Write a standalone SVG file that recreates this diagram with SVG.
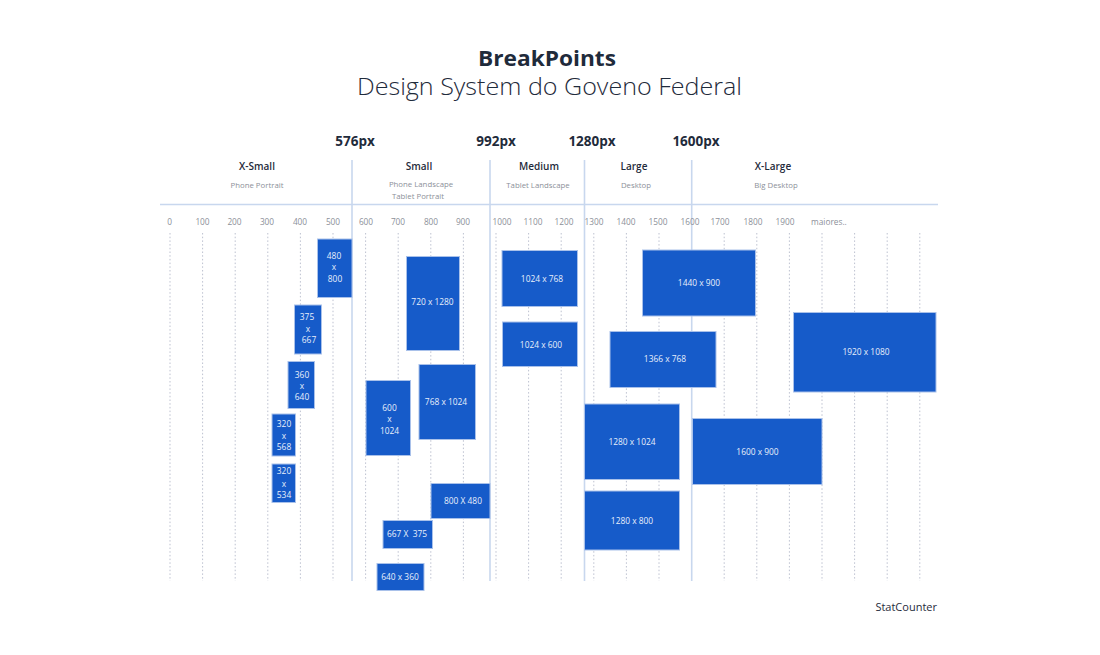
<svg xmlns="http://www.w3.org/2000/svg" width="1100" height="655" viewBox="0 0 1100 655">
<style>
text{font-family:"Open Sans","Liberation Sans",sans-serif}
.title{font-size:22px;font-weight:700;fill:#1f2b3b}
.sub{font-size:23px;font-weight:300;fill:#1f2b3b}
.bp{font-size:13.5px;font-weight:700;fill:#1f2b3b}
.cat{font-size:10px;font-weight:600;fill:#1f2b3b}
.desc{font-size:7.8px;fill:#8c9099}
.tick{font-size:8.3px;fill:#8c9099}
.box rect{fill:#165bc9;stroke:#a9c1ea;stroke-width:1}
.box text{font-size:8.4px;fill:#e8effb;text-anchor:middle}
.dot{stroke:#b6bacb;stroke-width:0.9;stroke-dasharray:1.5 2.2}
.sep{stroke:#c8d7ee;stroke-width:1.6}
.mid{text-anchor:middle}
</style>
<rect width="1100" height="655" fill="#ffffff"/>
<g id="title">
<text class="title mid" x="547" y="66" textLength="138" lengthAdjust="spacingAndGlyphs">BreakPoints</text>
<text class="sub mid" x="549.5" y="95" textLength="385" lengthAdjust="spacingAndGlyphs">Design System do Goveno Federal</text>
</g>
<g id="grid">
<line class="sep" x1="160" y1="204.5" x2="938" y2="204.5"/>
<line class="dot" x1="170" y1="233" x2="170" y2="581"/>
<line class="dot" x1="202.6" y1="233" x2="202.6" y2="581"/>
<line class="dot" x1="235.2" y1="233" x2="235.2" y2="581"/>
<line class="dot" x1="267.8" y1="233" x2="267.8" y2="581"/>
<line class="dot" x1="300.4" y1="233" x2="300.4" y2="581"/>
<line class="dot" x1="333" y1="233" x2="333" y2="581"/>
<line class="dot" x1="365.6" y1="233" x2="365.6" y2="581"/>
<line class="dot" x1="398.2" y1="233" x2="398.2" y2="581"/>
<line class="dot" x1="430.8" y1="233" x2="430.8" y2="581"/>
<line class="dot" x1="463.4" y1="233" x2="463.4" y2="581"/>
<line class="dot" x1="496" y1="233" x2="496" y2="581"/>
<line class="dot" x1="528.6" y1="233" x2="528.6" y2="581"/>
<line class="dot" x1="561.2" y1="233" x2="561.2" y2="581"/>
<line class="dot" x1="593.8" y1="233" x2="593.8" y2="581"/>
<line class="dot" x1="626.4" y1="233" x2="626.4" y2="581"/>
<line class="dot" x1="659" y1="233" x2="659" y2="581"/>
<line class="dot" x1="724.2" y1="233" x2="724.2" y2="581"/>
<line class="dot" x1="756.8" y1="233" x2="756.8" y2="581"/>
<line class="dot" x1="789.4" y1="233" x2="789.4" y2="581"/>
<line class="dot" x1="822" y1="233" x2="822" y2="581"/>
<line class="dot" x1="854.6" y1="233" x2="854.6" y2="581"/>
<line class="dot" x1="887.2" y1="233" x2="887.2" y2="581"/>
<line class="dot" x1="919.8" y1="233" x2="919.8" y2="581"/>
<line class="sep" x1="352" y1="160" x2="352" y2="581"/>
<line class="sep" x1="490" y1="160" x2="490" y2="581"/>
<line class="sep" x1="584.5" y1="160" x2="584.5" y2="581"/>
<line class="sep" x1="691.7" y1="160" x2="691.7" y2="581"/>
</g>
<g id="breakpoints">
<text class="bp mid" x="355" y="146">576px</text>
<text class="bp mid" x="496" y="146">992px</text>
<text class="bp mid" x="592" y="146">1280px</text>
<text class="bp mid" x="696" y="146">1600px</text>
</g>
<g id="cat-xsmall">
<text class="cat mid" x="257" y="170">X-Small</text>
<text class="desc mid" x="257" y="188">Phone Portrait</text>
</g>
<g id="cat-small">
<text class="cat mid" x="419" y="170">Small</text>
<text class="desc mid" x="421" y="187">Phone Landscape</text>
<text class="desc mid" x="418" y="199">Tablet Portrait</text>
</g>
<g id="cat-medium">
<text class="cat mid" x="539" y="170">Medium</text>
<text class="desc mid" x="538" y="188">Tablet Landscape</text>
</g>
<g id="cat-large">
<text class="cat mid" x="634" y="170">Large</text>
<text class="desc mid" x="636" y="188">Desktop</text>
</g>
<g id="cat-xlarge">
<text class="cat mid" x="773" y="170">X-Large</text>
<text class="desc mid" x="776" y="188">Big Desktop</text>
</g>
<g id="axis" class="tick">
<text class="mid" x="169.5" y="225">0</text>
<text class="mid" x="202.5" y="225">100</text>
<text class="mid" x="234.5" y="225">200</text>
<text class="mid" x="267" y="225">300</text>
<text class="mid" x="300" y="225">400</text>
<text class="mid" x="333" y="225">500</text>
<text class="mid" x="366" y="225">600</text>
<text class="mid" x="398" y="225">700</text>
<text class="mid" x="431" y="225">800</text>
<text class="mid" x="463" y="225">900</text>
<text class="mid" x="502" y="225">1000</text>
<text class="mid" x="533" y="225">1100</text>
<text class="mid" x="564" y="225">1200</text>
<text class="mid" x="594" y="225">1300</text>
<text class="mid" x="626" y="225">1400</text>
<text class="mid" x="658" y="225">1500</text>
<text class="mid" x="690" y="225">1600</text>
<text class="mid" x="720" y="225">1700</text>
<text class="mid" x="753" y="225">1800</text>
<text class="mid" x="785" y="225">1900</text>
<text x="811" y="225">maiores..</text>
</g>
<g id="b480x800" class="box"><rect x="317.5" y="239" width="34.5" height="58.5"/><text x="334" y="258.5">480</text><text x="334" y="270">x</text><text x="335" y="281.5">800</text></g>
<g id="b375x667" class="box"><rect x="294.5" y="305" width="27" height="49"/><text x="307" y="319.5">375</text><text x="308" y="332">x</text><text x="309" y="343">667</text></g>
<g id="b360x640" class="box"><rect x="288" y="361.5" width="26.5" height="47"/><text x="302" y="377.5">360</text><text x="302" y="389">x</text><text x="302" y="400">640</text></g>
<g id="b320x568" class="box"><rect x="272" y="414" width="23.5" height="42"/><text x="284" y="426.5">320</text><text x="284" y="438.5">x</text><text x="284" y="449.5">568</text></g>
<g id="b320x534" class="box"><rect x="272" y="464" width="23.5" height="38.5"/><text x="284" y="474">320</text><text x="284" y="487">x</text><text x="284" y="497.5">534</text></g>
<g id="b720x1280" class="box"><rect x="406.5" y="256.5" width="53" height="94"/><text x="432.5" y="304.5">720 x 1280</text></g>
<g id="b768x1024" class="box"><rect x="419" y="364.5" width="56.5" height="75"/><text x="446" y="405">768 x 1024</text></g>
<g id="b600x1024" class="box"><rect x="366" y="380.5" width="44.5" height="75"/><text x="389.5" y="410.5">600</text><text x="389.5" y="422">x</text><text x="389.5" y="434">1024</text></g>
<g id="b800x480" class="box"><rect x="431" y="483.5" width="59" height="35"/><text x="463" y="503.5">800 X 480</text></g>
<g id="b667x375" class="box"><rect x="383" y="520.5" width="49.5" height="28"/><text x="407" y="536.5">667 X&#160; 375</text></g>
<g id="b640x360" class="box"><rect x="377" y="563.5" width="47" height="27"/><text x="400" y="580">640 x 360</text></g>
<g id="b1024x768" class="box"><rect x="502" y="250.5" width="75.5" height="56"/><text x="542" y="281.5">1024 x 768</text></g>
<g id="b1024x600" class="box"><rect x="502.5" y="322" width="75" height="44.5"/><text x="541" y="347.5">1024 x 600</text></g>
<g id="b1440x900" class="box"><rect x="642.5" y="250" width="113" height="66"/><text x="699" y="286">1440 x 900</text></g>
<g id="b1366x768" class="box"><rect x="610" y="331.5" width="106" height="56"/><text x="665" y="362">1366 x 768</text></g>
<g id="b1920x1080" class="box"><rect x="793.5" y="312.5" width="142.5" height="79.5"/><text x="866" y="354.5">1920 x 1080</text></g>
<g id="b1280x1024" class="box"><rect x="584.5" y="404" width="95" height="75.5"/><text x="632" y="444.5">1280 x 1024</text></g>
<g id="b1600x900" class="box"><rect x="692.5" y="418.5" width="129.5" height="66"/><text x="757.5" y="454.5">1600 x 900</text></g>
<g id="b1280x800" class="box"><rect x="584.5" y="491" width="95" height="59"/><text x="632" y="523.5">1280 x 800</text></g>
<g id="footer"><text x="937" y="611" style="font-size:11px;fill:#1f2b3b;text-anchor:end">StatCounter</text></g>
</svg>
